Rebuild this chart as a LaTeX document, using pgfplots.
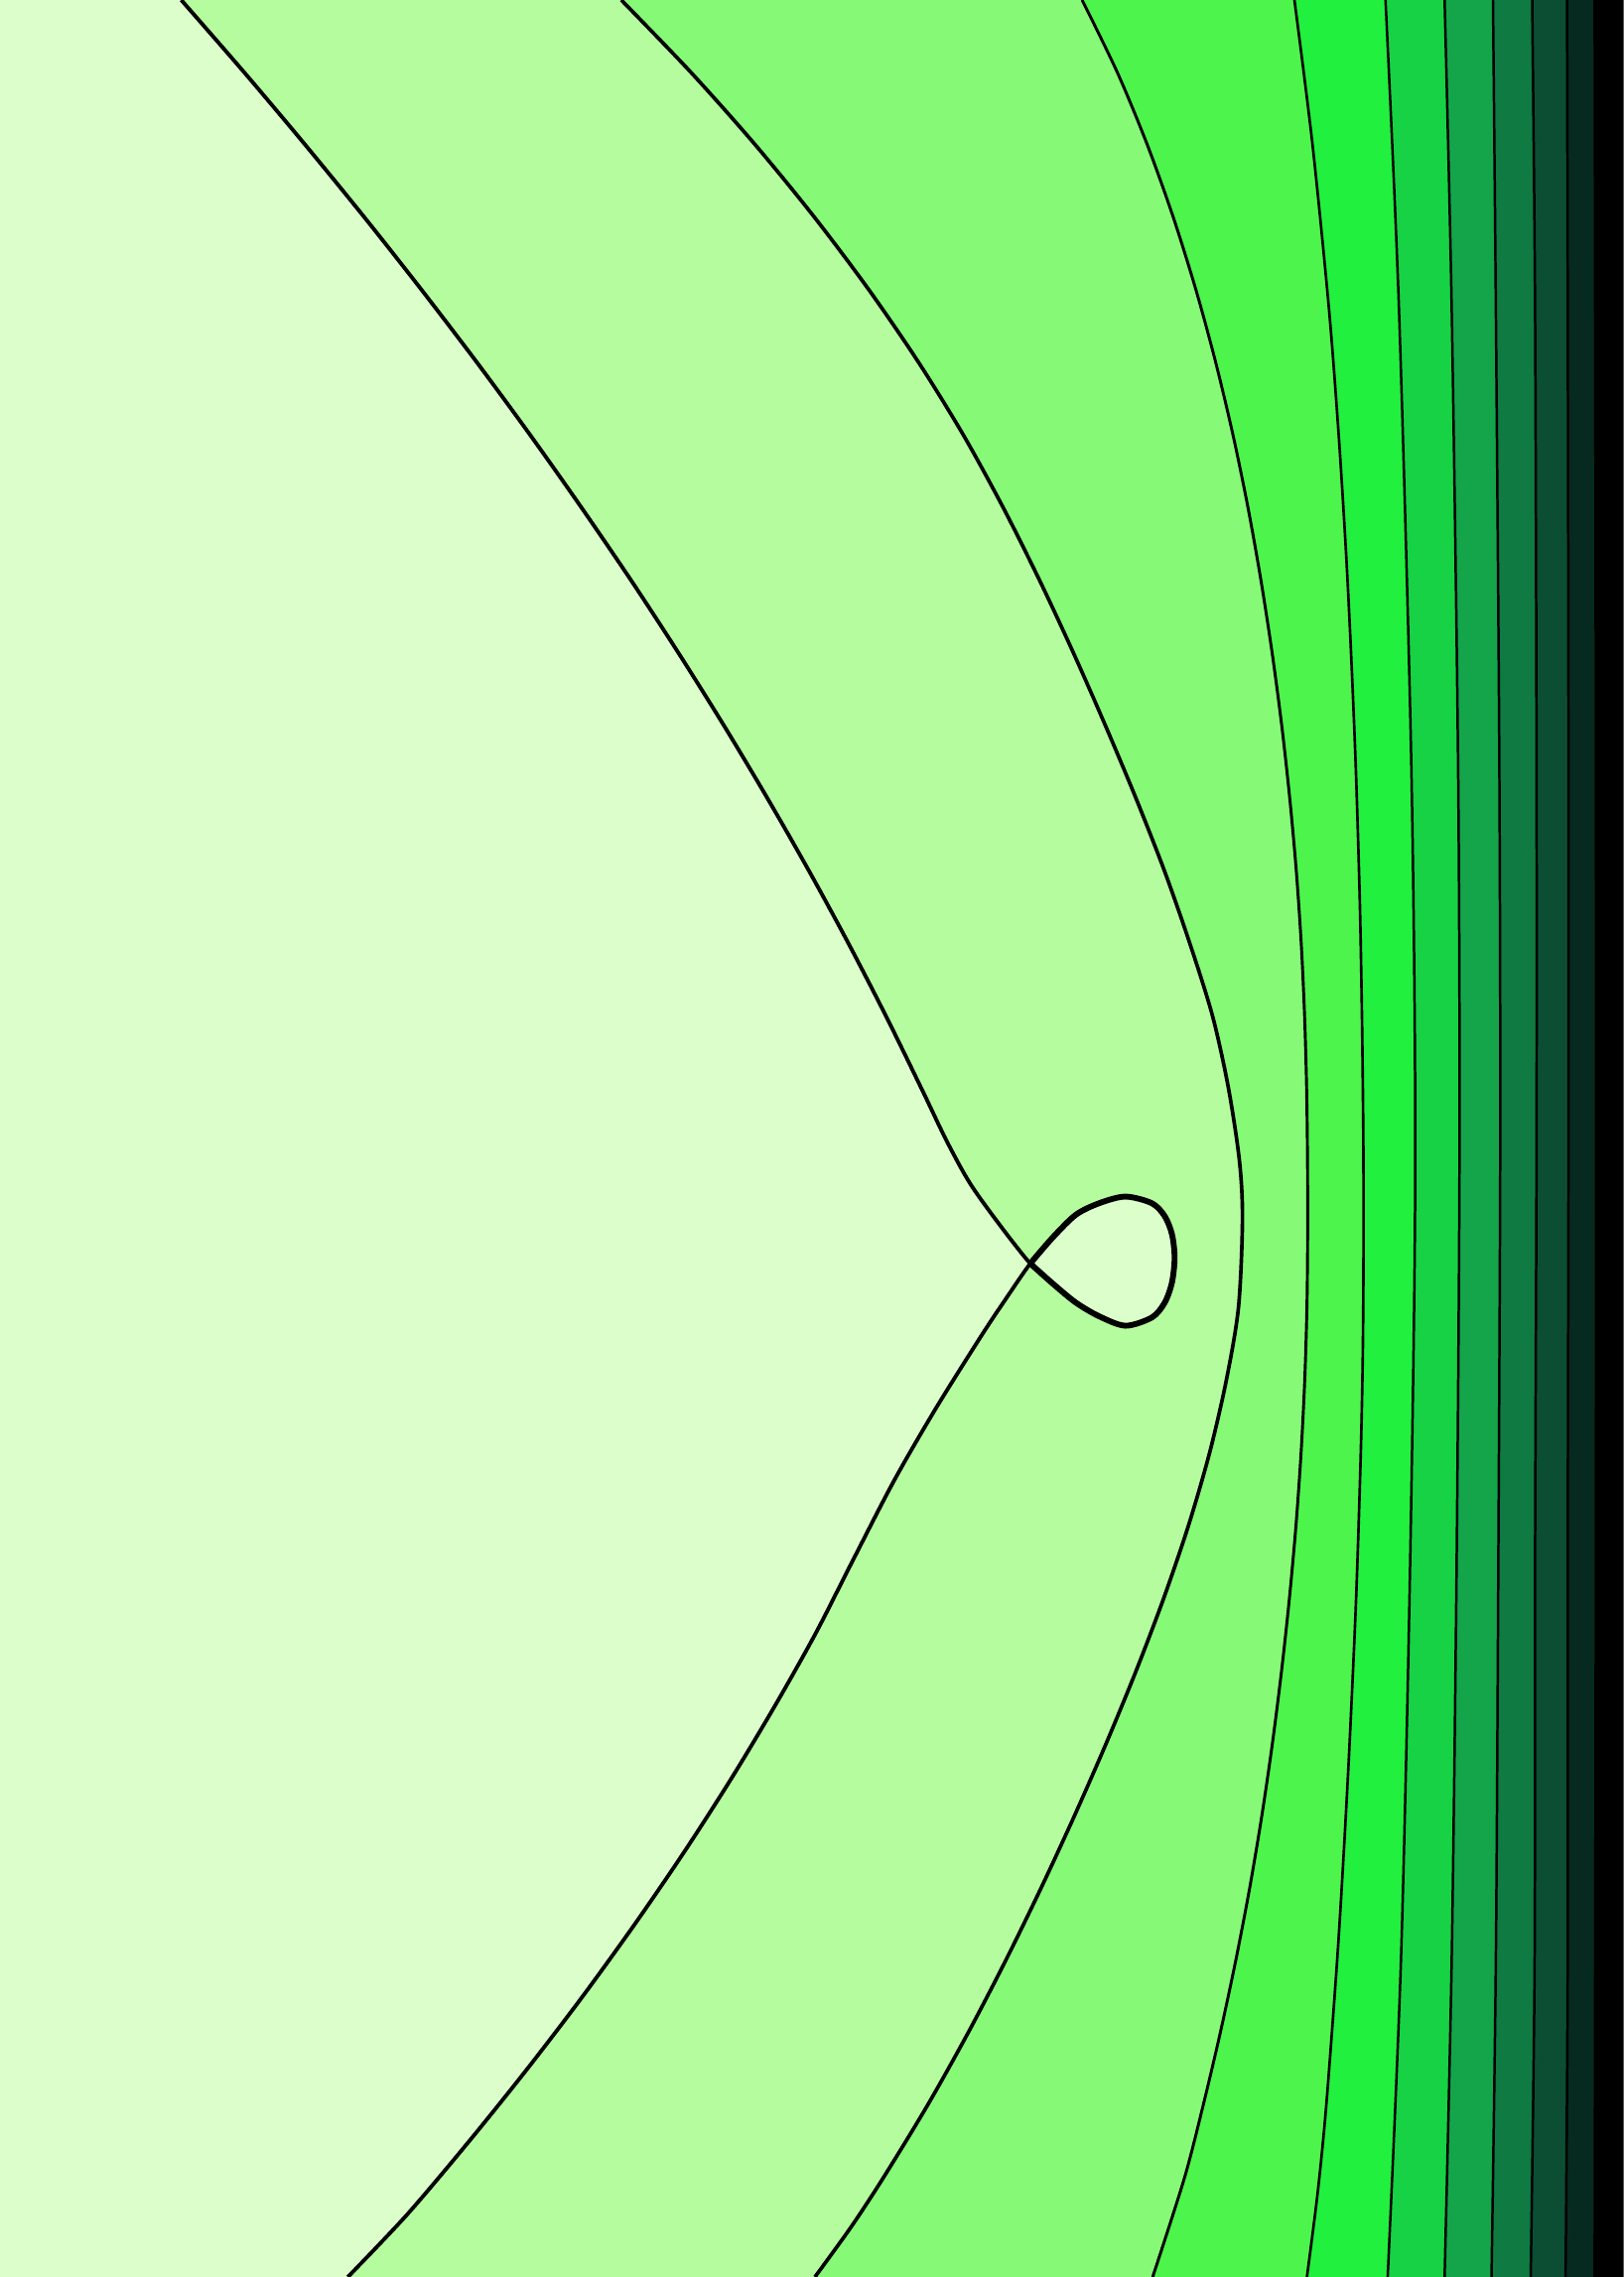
\documentclass[border=0pt]{standalone}
\usepackage{pgfplots}
\usepackage{pgfplotstable}
\pgfplotsset{compat=1.18}
\definecolor{c0}{HTML}{DBFECB}
\definecolor{c1}{HTML}{B5FC9F}
\definecolor{c2}{HTML}{86FA77}
\definecolor{c3}{HTML}{4DF44C}
\definecolor{c4}{HTML}{22F03F}
\definecolor{c5}{HTML}{16D244}
\definecolor{c6}{HTML}{14A54B}
\definecolor{c7}{HTML}{0F7A42}
\definecolor{c8}{HTML}{0C4E34}
\definecolor{c9}{HTML}{072A20}
\pgfplotstableread{
x y
124.8 0
168.3 50
210.4 100
251.2 150
290.6 200
328.7 250
365.4 300
400.7 350
434.8 400
467.4 450
498.7 500
528.6 550
557.2 600
584.4 650
610.2 700
634.7 750
652.0 786
668.0 815
688.0 843
709.4 870.1
725.0 884.0
740.8 897.0
757.0 906.5
775.0 912.9
793.2 907.2
802.0 897.0
807.0 883.0
808.8 866.0
807.0 850.0
802.0 837.5
793.2 828.6
775.0 824.0
757.0 828.5
740.8 836.5
725.0 852.0
709.4 870.1
692.2 895
675.6 920
644.3 970
615.4 1020
587.0 1075
561.5 1125
533.4 1175
503.4 1225
471.3 1275
437.1 1325
401.0 1375
362.8 1425
322.6 1475
280.3 1525
239.5 1568
}\cA
\pgfplotstableread{
x y
709.4 870.1
725.0 884.0
740.8 897.0
757.0 906.5
775.0 912.9
793.2 907.2
802.0 897.0
807.0 883.0
808.8 866.0
807.0 850.0
802.0 837.5
793.2 828.6
775.0 824.0
757.0 828.5
740.8 836.5
725.0 852.0
709.4 870.1
}\cLoop
\pgfplotstableread{
x y
427.8 0
475.9 50
520.3 100
561.1 150
598.6 200
632.8 250
663.6 300
691.0 350
716.0 400
739.3 450
761.3 500
782.3 550
801.9 600
819.4 650
835.0 700
846.0 750
853.5 800
855.5 840
852.8 900
844.5 950
833.0 1000
818.5 1050
801.5 1100
782.5 1150
761.9 1200
740.0 1250
716.9 1300
692.5 1350
666.5 1400
638.5 1450
608.0 1500
585.7 1534
561.1 1568
}\cB
\pgfplotstableread{
x y
745.1 0
769.4 50
790.1 100
808.0 150
823.6 200
837.2 250
849.1 300
859.4 350
868.3 400
876.0 450
882.6 500
888.1 550
892.6 600
896.0 650
898.3 700
899.7 750
900.3 800
900.4 850
899.9 900
898.4 950
895.9 1000
892.4 1050
887.9 1100
882.5 1150
876.2 1200
868.9 1250
860.5 1300
850.9 1350
840.2 1400
828.4 1450
815.5 1500
793.7 1568
}\cC
\pgfplotstableread{
x y
891.3 0
903.8 100
915.1 213
921.8 300
926.8 380
930.3 450
933.6 530
936.3 620
937.8 700
938.7 780
938.9 850
938.4 930
937.0 1000
933.8 1100
929.3 1200
925.3 1275
920.7 1350
913.2 1450
907.3 1510
899.9 1568
}\cD
\pgfplotstableread{
x y
954.0 0
963.3 213.3
971.8 527.9
974.5 800.0
971.0 1075.0
964.7 1348.5
955.5 1568
}\cE
\pgfplotstableread{
x y
994.7 0
999.6 213.3
1004.0 527.9
1005.0 786.0
1003.0 1075.0
999.6 1348.5
994.7 1568
}\cF
\pgfplotstableread{
x y
1028.0 0
1030.0 213.3
1032.4 527.9
1033.0 786.0
1031.7 1075.0
1030.0 1348.5
1027.0 1568
}\cG
\pgfplotstableread{
x y
1055.0 0
1057.0 213.3
1058.0 527.9
1058.0 786.0
1057.0 1075.0
1056.7 1348.5
1054.0 1568
}\cH
\pgfplotstableread{
x y
1079.0 0
1079.5 213.3
1080.0 527.9
1080.0 786.0
1079.5 1075.0
1079.5 1348.5
1078.0 1568
}\cI
\pgfplotstableread{
x y
1098.0 0
1098.7 400
1099.0 786
1098.7 1180
1098.0 1568
}\cJ
\begin{document}
\begin{tikzpicture}
\begin{axis}[
  width=1118pt, height=1568pt, scale only axis,
  xmin=0, xmax=1118, ymin=0, ymax=1568, y dir=reverse,
  hide axis, clip=true,
]
\addplot[fill=black, draw=none] coordinates {(-60,-60) (1200,-60) (1200,1650) (-60,1650)} -- cycle;
\addplot[fill=c9, draw=none, smooth] table {\cJ} -- (axis cs:-60,1650) -- (axis cs:-60,-60) -- cycle;
\addplot[fill=c8, draw=none, smooth] table {\cI} -- (axis cs:-60,1650) -- (axis cs:-60,-60) -- cycle;
\addplot[fill=c7, draw=none, smooth] table {\cH} -- (axis cs:-60,1650) -- (axis cs:-60,-60) -- cycle;
\addplot[fill=c6, draw=none, smooth] table {\cG} -- (axis cs:-60,1650) -- (axis cs:-60,-60) -- cycle;
\addplot[fill=c5, draw=none, smooth] table {\cF} -- (axis cs:-60,1650) -- (axis cs:-60,-60) -- cycle;
\addplot[fill=c4, draw=none, smooth] table {\cE} -- (axis cs:-60,1650) -- (axis cs:-60,-60) -- cycle;
\addplot[fill=c3, draw=none, smooth] table {\cD} -- (axis cs:-60,1650) -- (axis cs:-60,-60) -- cycle;
\addplot[fill=c2, draw=none, smooth] table {\cC} -- (axis cs:-60,1650) -- (axis cs:-60,-60) -- cycle;
\addplot[fill=c1, draw=none, smooth] table {\cB} -- (axis cs:-60,1650) -- (axis cs:-60,-60) -- cycle;
\addplot[fill=c0, draw=none, smooth] table {\cA} -- (axis cs:-60,1650) -- (axis cs:-60,-60) -- cycle;
\addplot[black, line width=1.7pt, smooth] table {\cJ};
\addplot[black, line width=1.7pt, smooth] table {\cI};
\addplot[black, line width=1.7pt, smooth] table {\cH};
\addplot[black, line width=1.7pt, smooth] table {\cG};
\addplot[black, line width=1.7pt, smooth] table {\cF};
\addplot[black, line width=1.7pt, smooth] table {\cE};
\addplot[black, line width=1.8pt, smooth] table {\cD};
\addplot[black, line width=2.0pt, smooth] table {\cC};
\addplot[black, line width=2.5pt, smooth] table {\cB};
\addplot[black, line width=2.6pt, smooth] table {\cA};
\addplot[black, line width=4pt, smooth] table {\cLoop};
\end{axis}
\pgfresetboundingbox
\path[use as bounding box] (current axis.south west) rectangle (current axis.north east);
\end{tikzpicture}
\end{document}
